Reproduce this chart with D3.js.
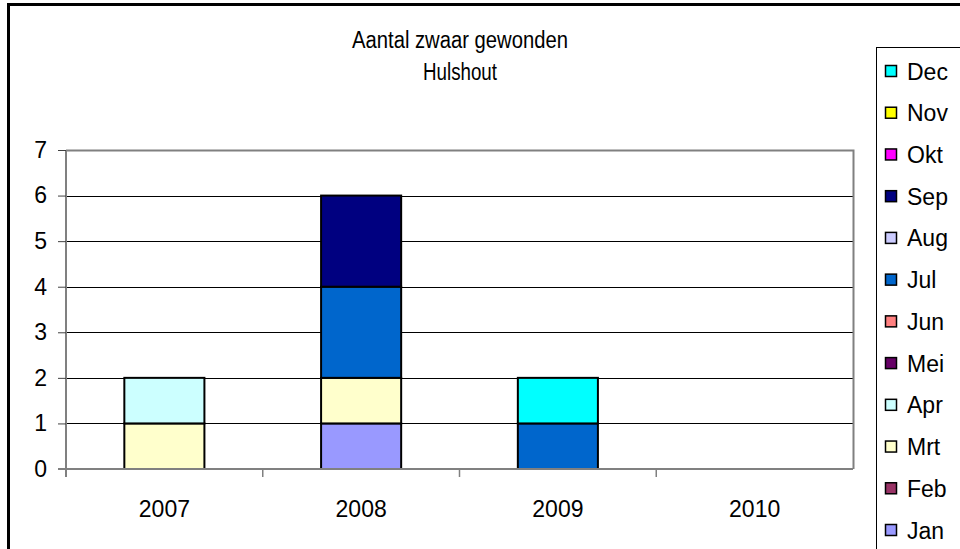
<!doctype html>
<html lang="en">
<head>
  <meta charset="utf-8">
  <script src="https://d3js.org/d3.v7.min.js"></script>
  <style>
    body { margin: 0; background: #fff; }
    text { font-family: "Liberation Sans", Arial, sans-serif; fill: #000; }
  </style>
</head>
<body>
  <script>
    var width = 960,
        height = 549;

    // data
    var years = ["2007", "2008", "2009", "2010"];
    var months = ["Jan", "Feb", "Mrt", "Apr", "Mei", "Jun", "Jul", "Aug", "Sep", "Okt", "Nov", "Dec"];
    var monthColors = ["#9999ff", "#993366", "#ffffcc", "#ccffff", "#660066", "#ff8080",
                       "#0066cc", "#ccccff", "#000080", "#ff00ff", "#ffff00", "#00ffff"];
    // counts per month, one array per year (Jan..Dec)
    var counts2007 = [0, 0, 1, 1, 0, 0, 0, 0, 0, 0, 0, 0];
    var counts2008 = [1, 0, 1, 0, 0, 0, 2, 0, 2, 0, 0, 0];
    var counts2009 = [0, 0, 0, 0, 0, 0, 1, 0, 0, 0, 0, 1];
    var counts2010 = [0, 0, 0, 0, 0, 0, 0, 0, 0, 0, 0, 0];
    var yTicks = [0, 1, 2, 3, 4, 5, 6, 7];
    var titleLines = ["Aantal zwaar gewonden", "Hulshout"];

    var allCounts = [counts2007, counts2008, counts2009, counts2010];
    var table = years.map(function(y, i) {
      var row = { year: y };
      months.forEach(function(m, j) { row[m] = allCounts[i][j]; });
      return row;
    });

    var svg = d3.select("body").append("svg")
        .attr("width", width)
        .attr("height", height);

    // outer chart border (right and bottom fall outside the picture)
    svg.append("path")
        .attr("d", "M8.5,549 V4.5 H960")
        .attr("fill", "none")
        .attr("stroke", "#000")
        .attr("stroke-width", 3);

    var plot = { left: 66, right: 853, top: 150, bottom: 469 };

    var x = d3.scaleBand()
        .domain(years)
        .range([plot.left, plot.right])
        .paddingInner(0.593)
        .paddingOuter(0.2965);

    var y = d3.scaleLinear()
        .domain([0, 7])
        .range([plot.bottom, plot.top]);

    var color = d3.scaleOrdinal().domain(months).range(monthColors);

    // gridlines
    svg.append("g")
        .selectAll("line")
        .data(yTicks.filter(function(t) { return t > 0 && t < 7; }))
      .enter().append("line")
        .attr("x1", plot.left).attr("x2", plot.right)
        .attr("y1", function(d) { return Math.round(y(d)) + 0.5; })
        .attr("y2", function(d) { return Math.round(y(d)) + 0.5; })
        .attr("stroke", "#000")
        .attr("stroke-width", 1);

    // plot area border top/right
    svg.append("path")
        .attr("d", "M" + plot.left + "," + (plot.top + 0.5) + " H" + (plot.right + 0.5) + " V" + plot.bottom)
        .attr("fill", "none")
        .attr("stroke", "#808080")
        .attr("stroke-width", 2);

    // stacked bars
    var stack = d3.stack().keys(months)(table);
    svg.append("g")
        .selectAll("g")
        .data(stack)
      .enter().append("g")
        .attr("fill", function(d) { return color(d.key); })
        .selectAll("rect")
        .data(function(d) { return d.filter(function(p) { return p[1] > p[0]; }); })
      .enter().append("rect")
        .attr("x", function(d) { return x(d.data.year); })
        .attr("width", x.bandwidth())
        .attr("y", function(d) { return y(d[1]); })
        .attr("height", function(d) { return y(d[0]) - y(d[1]); })
        .attr("stroke", "#000")
        .attr("stroke-width", 2);

    // y axis
    var yAxis = svg.append("g")
        .attr("transform", "translate(" + plot.left + ",0)")
        .call(d3.axisLeft(y).tickValues(yTicks).tickSize(8).tickPadding(11).tickFormat(d3.format("d")));
    yAxis.select(".domain").attr("stroke", "#808080").attr("stroke-width", 2)
        .attr("d", "M0," + plot.top + "V" + (plot.bottom + 8));
    yAxis.selectAll(".tick line").attr("stroke", "#404040");
    yAxis.selectAll("text")
        .style("font-size", "23px")
        .attr("font-family", "Liberation Sans, Arial, sans-serif");

    // x axis
    var xAxis = svg.append("g")
        .attr("transform", "translate(0," + plot.bottom + ")")
        .call(d3.axisBottom(x).tickSize(0).tickPadding(32));
    xAxis.select(".domain").attr("stroke", "#808080").attr("stroke-width", 2)
        .attr("d", "M" + (plot.left - 8) + ",0H" + plot.right);
    xAxis.selectAll("text")
        .style("font-size", "23px")
        .attr("font-family", "Liberation Sans, Arial, sans-serif");
    // category separator ticks
    var step = x.step();
    xAxis.selectAll(".sep")
        .data(years.slice(1))
      .enter().append("line")
        .attr("x1", function(d) { return x(d) - x.paddingInner() * step / 2; })
        .attr("x2", function(d) { return x(d) - x.paddingInner() * step / 2; })
        .attr("y1", 0).attr("y2", 8)
        .attr("stroke", "#808080")
        .attr("stroke-width", 1.5);

    // title (condensed look of the original)
    var titleWidths = [216, 74];
    svg.selectAll(".title")
        .data(titleLines)
      .enter().append("text")
        .attr("class", "title")
        .attr("x", 460)
        .attr("y", function(d, i) { return 48 + i * 32; })
        .attr("text-anchor", "middle")
        .attr("textLength", function(d, i) { return titleWidths[i]; })
        .attr("lengthAdjust", "spacingAndGlyphs")
        .style("font-size", "23px")
        .text(function(d) { return d; });

    // legend, Dec on top
    var legend = svg.append("g").attr("transform", "translate(876,47)");
    legend.append("rect")
        .attr("x", 0.5).attr("y", 0.5)
        .attr("width", 100).attr("height", 520)
        .attr("fill", "#fff")
        .attr("stroke", "#000")
        .attr("stroke-width", 1);

    var legendY = d3.scalePoint()
        .domain(months.slice().reverse())
        .range([24, 483]);

    var item = legend.selectAll(".item")
        .data(months.slice().reverse())
      .enter().append("g")
        .attr("transform", function(d) { return "translate(0," + legendY(d) + ")"; });
    item.append("rect")
        .attr("x", 9.5).attr("y", -5.5)
        .attr("width", 11).attr("height", 11)
        .attr("fill", function(d) { return color(d); })
        .attr("stroke", "#000")
        .attr("stroke-width", 1.5);
    item.append("text")
        .attr("x", 31).attr("y", 8.5)
        .style("font-size", "23px")
        .text(function(d) { return d; });
  </script>
</body>
</html>
